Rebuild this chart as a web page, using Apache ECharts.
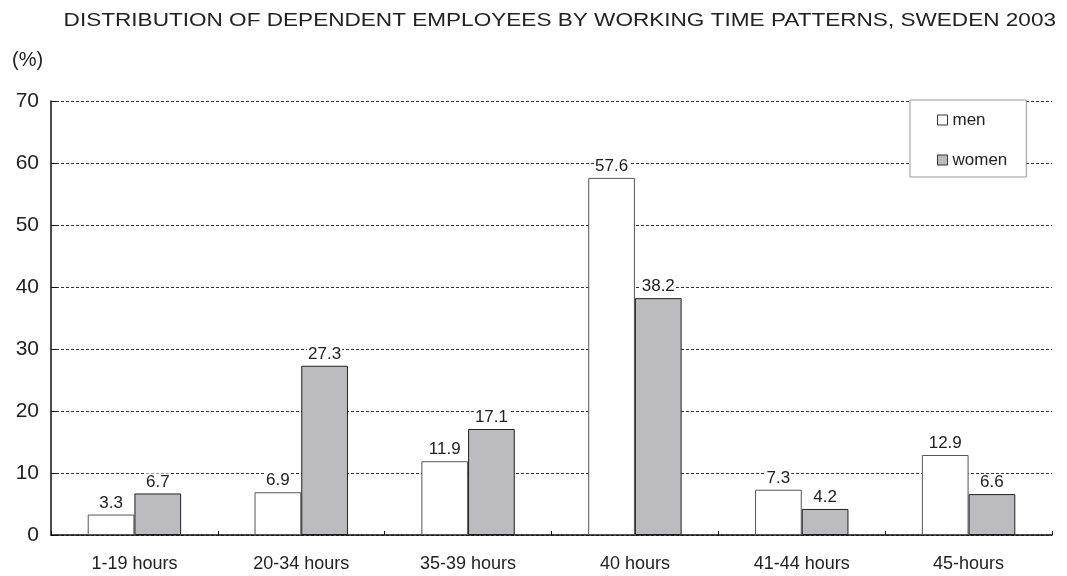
<!DOCTYPE html>
<html><head><meta charset="utf-8">
<script src="https://cdn.jsdelivr.net/npm/echarts@6/dist/echarts.min.js"></script>
<style>html,body{margin:0;padding:0;background:#fff}#c{width:1067px;height:576px}</style>
</head><body><div id="c"></div>
<script>
var categories = ['1-19 hours','20-34 hours','35-39 hours','40 hours','41-44 hours','45-hours'];
var men = [3.3, 6.9, 11.9, 57.6, 7.3, 12.9];
var women = [6.7, 27.3, 17.1, 38.2, 4.2, 6.6];
var yTicks = [0,10,20,30,40,50,60,70];
var titleText = 'DISTRIBUTION OF DEPENDENT EMPLOYEES BY WORKING TIME PATTERNS, SWEDEN 2003';

var chart = echarts.init(document.getElementById('c'));
var font = 'Liberation Sans, Arial, sans-serif';
var lbl = {show:true, position:'top', distance:3, color:'#222', fontSize:17, fontFamily:font, backgroundColor:'#fff', padding:[0,1], formatter:function(p){return p.value.toFixed(1);}};
chart.setOption({
  animation:false,
  graphic:[{type:'text', x:1056, y:21, scaleX:1.22, scaleY:1,
    style:{text:titleText, align:'right', verticalAlign:'middle', fill:'#222', font:'18.5px ' + font}}],
  title:[{text:'(%)', left:12, top:50, padding:0, textStyle:{fontSize:20, fontWeight:'normal', color:'#222', fontFamily:font}}],
  grid:{left:51, right:15, top:101, bottom:41},
  legend:{orient:'vertical', left:910, top:100, padding:[10,19,7,27], itemGap:20, itemWidth:10, itemHeight:10, borderColor:'#999', borderWidth:1, backgroundColor:'#fff',
    textStyle:{fontSize:17, lineHeight:20, color:'#222', fontFamily:font},
    data:[{name:'men', icon:'rect', itemStyle:{color:'#fff', borderColor:'#333', borderWidth:1}},{name:'women', icon:'rect', itemStyle:{color:'#bcbcc0', borderColor:'#333', borderWidth:1}}]},
  xAxis:{type:'category', data:categories, axisTick:{show:true, inside:true, length:4, lineStyle:{color:'#111'}}, axisLine:{lineStyle:{color:'#111', width:1.5}},
    axisLabel:{fontSize:18, color:'#222', fontFamily:font, margin:20}},
  yAxis:{type:'value', min:yTicks[0], max:yTicks[yTicks.length-1], interval:10,
    axisLine:{show:true, lineStyle:{color:'#111', width:1.5}}, axisTick:{show:true, inside:true, length:6, lineStyle:{color:'#111'}},
    axisLabel:{fontSize:21, color:'#222', fontFamily:font, margin:12},
    splitLine:{lineStyle:{color:'#333', type:[3,2], width:1}}},
  series:[
    {name:'men', type:'bar', data:men, barGap:'0%', barCategoryGap:'44%', itemStyle:{color:'#fff', borderColor:'#555', borderWidth:1}, label:lbl},
    {name:'women', type:'bar', data:women, itemStyle:{color:'#bcbcc0', borderColor:'#222', borderWidth:1}, label:lbl}
  ]
});
</script></body></html>
